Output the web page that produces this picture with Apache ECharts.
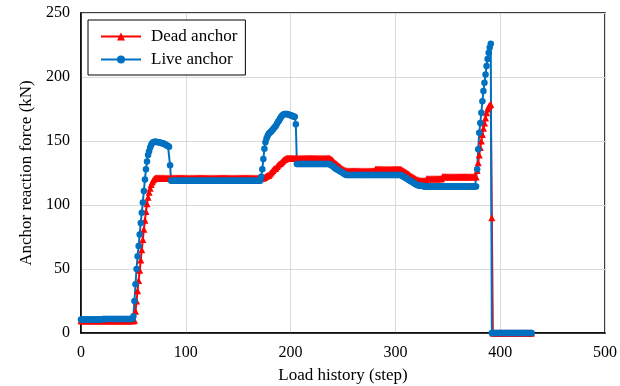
<!DOCTYPE html>
<html>
<head>
<meta charset="utf-8">
<script src="https://cdn.jsdelivr.net/npm/echarts@6/dist/echarts.min.js"></script>
<style>
  html, body { margin: 0; padding: 0; background: #fff; }
  #chart { width: 620px; height: 386px; }
</style>
</head>
<body>
<div id="chart"></div>
<script>
// Anchor reaction force (kN) per load step, steps 0..430
const deadAnchor = [
  9.5,9.5,9.5,9.5,9.5,9.5,9.5,9.5,9.5,9.5,9.5,9.5,9.5,9.5,9.5,9.5,9.5,9.5,9.5,9.5,
  9.5,9.5,9.5,9.5,9.5,9.5,9.5,9.5,9.5,9.5,9.5,9.5,9.5,9.5,9.5,9.5,9.5,9.5,9.5,9.5,
  9.5,9.5,9.5,9.5,9.5,9.5,9.5,9.5,9.5,9.5,9.5,
  10,17,25,33,41,49,57,65,73,81,88,95,101,106,110,113,116,118,119.5,120.5,
  121,121,121,121,121,121,121,121,121,121,121,121,121,121,121,121,121,121,121,121,
  121,121,121,121,121,121,121,121,121,121,121,121,121,121,121,121,121,121,121,121,
  121,121,121,121,121,121,121,121,121,121,121,121,121,121,121,121,121,121,121,121,
  121,121,121,121,121,121,121,121,121,121,121,121,121,121,121,121,121,121,121,121,
  121,121,121,121,121,121,121,121,121,121,121,121,121,121,121,121,121,121,121,121,
  121,121,121,121,
  121.5,122,122.5,123,123,124,125,126,127,128,128.5,129,130,131,132,132.5,133,134,135,135.5,136,136.5,
  136.5,136.5,136.5,136.5,136.5,136.5,136.5,136.5,136.5,136.5,136.5,136.5,136.5,136.5,136.5,136.5,136.5,136.5,136.5,136.5,
  136.5,136.5,136.5,136.5,136.5,136.5,136.5,136.5,136.5,136.5,136.5,136.5,136.5,136.5,136.5,136.5,136.5,136.5,136.5,136.5,
  136.5,
  136,135.5,135,134,133,132.5,132,131,130.5,130,129,128.5,128,127.5,127,127,
  126.5,126.5,126.5,126.5,126.5,126.5,126.5,126.5,126.5,126.5,126.5,126.5,126.5,126.5,126.5,126.5,126.5,126.5,126.5,126.5,
  126.5,126.5,126.5,126.5,126.5,126.5,126.5,
  128,128,128,128,128,128,128,128,128,128,128,128,128,128,128,128,128,128,128,128,128,128,128,128,128,
  127.5,127,126.5,126,125.5,125,124.5,124,123,122.5,122,121.5,121,120.5,120,119.5,119.5,119,119,
  119,119,119,119,119,
  120.5,120.5,120.5,120.5,120.5,120.5,120.5,120.5,120.5,120.5,120.5,120.5,120.5,120.5,120.5,
  122,122,122,122,122,122,122,122,122,122,122,122,122,122,122,122,122,122,122,122,
  122,122,122,122,122,122,122,122,122,122,122,122,122,
  127,133,139,145,150,155,160,164,168,172,175,177,178,178.5,90,
  0,0,0,0,0,0,0,0,0,0,0,0,0,0,0,0,0,0,0,0,0,0,0,0,0,0,0,0,0,0,0,0,0,0,0,0,0,0
];

const liveAnchor = [
  10.5,10.5,10.5,10.5,10.5,10.5,10.5,10.5,10.5,10.5,10.5,10.5,10.5,10.5,10.5,10.5,10.5,10.5,10.5,10.5,10.5,
  11,11,11,11,11,11,11,11,11,11,11,11,11,11,11,11,11,11,11,11,11,11,11,11,11,11,11,11,11,
  13,25,38,50,60,68,77,86,94,102,111,120,128,134,139,142,145,147,148.5,149,149.5,
  149.5,149.5,149,149,149,148.5,148.5,148,148,
  147.5,147,146.5,146,145.5,131,
  119,119,119,119,119,119,119,119,119,119,119,119,119,119,119,119,119,119,119,119,
  119,119,119,119,119,119,119,119,119,119,119,119,119,119,119,119,119,119,119,119,
  119,119,119,119,119,119,119,119,119,119,119,119,119,119,119,119,119,119,119,119,
  119,119,119,119,119,119,119,119,119,119,119,119,119,119,119,119,119,119,119,119,
  119,119,119,119,119,119,
  122,128,136,144,149,152,154,155.5,156.5,157,158,159,160,161,162,163.5,165,166,167.5,169,
  170,170.5,171,171,171,171,170.5,170.5,170,170,169.5,169,169,163,
  132,132,132,132,132,132,132,132,132,132,132,132,132,132,132,132,
  132,132,132,132,132,132,132,132,132,132,132,132,132,132,132,132,
  131.5,131,130.5,130,129,128.5,128,127.5,127,126.5,126,125.5,125,124.5,124,123.5,
  123.5,123.5,123.5,123.5,123.5,123.5,123.5,123.5,123.5,123.5,123.5,123.5,123.5,123.5,123.5,123.5,123.5,123.5,123.5,123.5,
  123.5,123.5,123.5,123.5,123.5,123.5,123.5,123.5,123.5,123.5,123.5,123.5,123.5,123.5,123.5,123.5,123.5,123.5,123.5,123.5,
  123.5,123.5,123.5,123.5,123.5,123.5,123.5,123.5,123.5,123.5,123.5,123.5,
  123,122.5,122,121.5,121,120.5,120,119.5,119,118.5,118,117.5,117,116.5,116,115.5,115.5,115,115,115,115,
  114.5,114.5,114.5,114.5,114.5,114.5,114.5,114.5,114.5,114.5,114.5,114.5,114.5,114.5,114.5,114.5,114.5,
  114.5,114.5,114.5,114.5,114.5,114.5,114.5,114.5,114.5,114.5,114.5,114.5,114.5,114.5,114.5,114.5,114.5,
  114.5,114.5,114.5,114.5,114.5,114.5,114.5,114.5,114.5,114.5,114.5,114.5,114.5,114.5,114.5,114.5,114.5,
  128,143.5,156.5,164,172,181,189,195.5,202,208.5,214,219,223,226,
  0,0,0,0,0,0,0,0,0,0,0,0,0,0,0,0,0,0,0,0,0,0,0,0,0,0,0,0,0,0,0,0,0,0,0,0,0,0,0
];

const xTicks = [0, 100, 200, 300, 400, 500];
const yTicks = [0, 50, 100, 150, 200, 250];

// pair each value with its load step
function toPoints(values) {
  return values.map((v, i) => [i, v]);
}

const font = 'Liberation Serif, Times New Roman, serif';
const chart = echarts.init(document.getElementById('chart'));

chart.setOption({
  animation: false,
  grid: {
    left: 81, right: 15, top: 13, bottom: 53,
    outerBoundsMode: 'none',
    show: true, borderColor: '#000', borderWidth: 1.5
  },
  legend: {
    orient: 'vertical',
    left: 88, top: 20,
    padding: [8, 8, 7, 12],
    itemGap: 6,
    itemWidth: 40, itemHeight: 10,
    borderColor: '#000', borderWidth: 1,
    backgroundColor: '#fff',
    textStyle: { fontFamily: font, fontSize: 17, color: '#000', padding: [0, 0, 0, 5] },
    data: ['Dead anchor', 'Live anchor']
  },
  xAxis: {
    type: 'value',
    min: xTicks[0], max: xTicks[xTicks.length - 1], interval: 100,
    name: 'Load history (step)',
    nameLocation: 'middle', nameGap: 34,
    nameTextStyle: { fontFamily: font, fontSize: 17, color: '#000' },
    axisLine: { show: true, lineStyle: { color: '#000', width: 1.5 } },
    axisTick: { show: false },
    axisLabel: { fontFamily: font, fontSize: 16, color: '#000', margin: 12 },
    splitLine: { show: true, lineStyle: { color: '#d9d9d9', width: 1 } }
  },
  yAxis: {
    type: 'value',
    min: yTicks[0], max: yTicks[yTicks.length - 1], interval: 50,
    name: 'Anchor reaction force (kN)',
    nameLocation: 'middle', nameGap: 46,
    nameTextStyle: { fontFamily: font, fontSize: 17, color: '#000' },
    axisLine: { show: true, lineStyle: { color: '#000', width: 1.5 } },
    axisTick: { show: false },
    axisLabel: { fontFamily: font, fontSize: 16, color: '#000', margin: 11 },
    splitLine: { show: true, lineStyle: { color: '#d9d9d9', width: 1 } }
  },
  series: [
    {
      name: 'Dead anchor',
      type: 'line',
      data: toPoints(deadAnchor),
      symbol: 'triangle',
      symbolSize: 7,
      showAllSymbol: true,
      color: '#ff0000',
      lineStyle: { color: '#ff0000', width: 2 },
      itemStyle: { color: '#ff0000' }
    },
    {
      name: 'Live anchor',
      type: 'line',
      data: toPoints(liveAnchor),
      symbol: 'circle',
      symbolSize: 6.5,
      showAllSymbol: true,
      color: '#0070c0',
      lineStyle: { color: '#0070c0', width: 2 },
      itemStyle: { color: '#0070c0' }
    }
  ]
});
</script>
</body>
</html>
